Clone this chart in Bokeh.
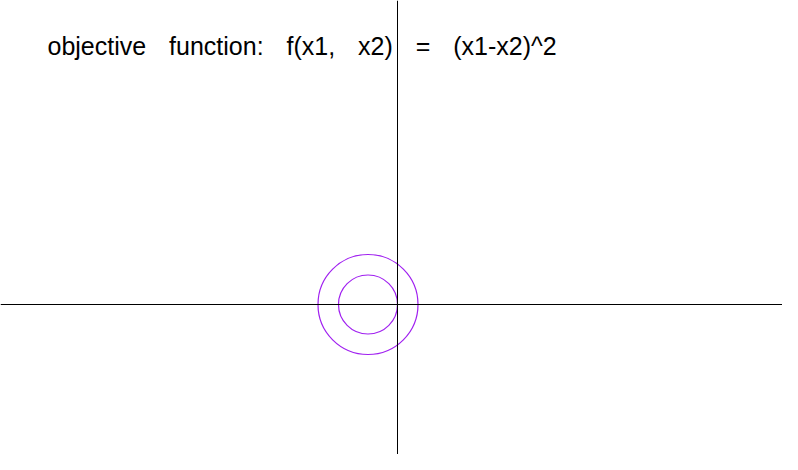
from bokeh.plotting import figure
from bokeh.models import Span, Label, Range1d
from bokeh.embed import file_html
from bokeh.resources import INLINE

# data
center_x1 = [-0.295, -0.295]
center_x2 = [0.0, 0.0]
radii = [0.5, 0.295]
title_words = ["objective", "function:", "f(x1,", "x2)", "=", "(x1-x2)^2"]
gap = " \u00a0\u00a0\u200a"
title_text = gap.join(title_words)

W, H = 782, 454
p = figure(width=W, height=H, output_backend="svg", toolbar_location=None,
           x_range=Range1d(-3.97, 3.85), y_range=Range1d(-1.50, 3.04),
           min_border=0, min_border_left=0, min_border_right=0,
           min_border_top=0, min_border_bottom=0)
p.axis.visible = False
p.grid.visible = False
p.outline_line_color = None
p.background_fill_color = "white"
p.border_fill_color = "white"

p.add_layout(Span(location=0, dimension="width", line_color="black", line_width=1))
p.add_layout(Span(location=0, dimension="height", line_color="black", line_width=1))

p.circle(x=center_x1, y=center_x2, radius=radii, fill_color=None,
         line_color="#A020F0", line_width=1.2)

p.add_layout(Label(x=47, y=H - 45, x_units="screen", y_units="screen",
                   text=title_text, text_font="Liberation Sans",
                   text_font_size="25px", text_color="black",
                   text_baseline="alphabetic"))

open("out.html", "w").write(file_html(p, INLINE))
